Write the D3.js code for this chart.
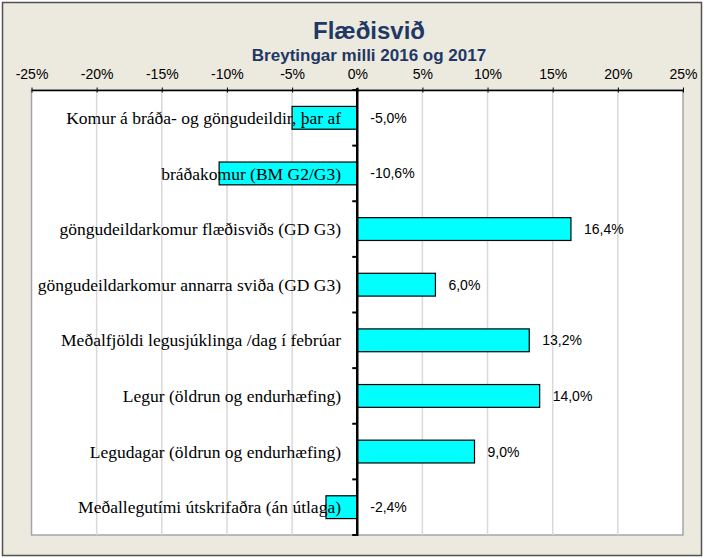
<!DOCTYPE html>
<html>
<head>
<meta charset="utf-8">
<script src="https://cdn.jsdelivr.net/npm/d3@7"></script>
<style>
  body { margin: 0; background: #fff; }
  svg { display: block; }
</style>
</head>
<body>
<svg id="chart" width="704" height="558"></svg>
<script>
// datos
const categories = [
  "Komur á bráða- og göngudeildir, þar af",
  "bráðakomur (BM G2/G3)",
  "göngudeildarkomur flæðisviðs (GD G3)",
  "göngudeildarkomur annarra sviða (GD G3)",
  "Meðalfjöldi legusjúklinga /dag í febrúar",
  "Legur (öldrun og endurhæfing)",
  "Legudagar (öldrun og endurhæfing)",
  "Meðallegutími útskrifaðra (án útlaga)"
];
const values = [-5.0, -10.6, 16.4, 6.0, 13.2, 14.0, 9.0, -2.4];
const ticks = [-25, -20, -15, -10, -5, 0, 5, 10, 15, 20, 25];
const title = "Flæðisvið";
const subtitle = "Breytingar milli 2016 og 2017";

const W = 704, H = 558;
const plot = { left: 31.5, right: 683, top: 90, bottom: 535 };
const svg = d3.select("#chart");

// fondo y marco
svg.append("rect").attr("x", 2.5).attr("y", 2.5).attr("width", W - 5).attr("height", H - 5)
  .attr("fill", "#ECE9DF").attr("stroke", "#505050").attr("stroke-width", 1.5);

svg.append("rect").attr("x", plot.left).attr("y", plot.top)
  .attr("width", plot.right - plot.left).attr("height", plot.bottom - plot.top)
  .attr("fill", "#fff").attr("stroke", "#A4A4AC").attr("stroke-width", 1.5);

const x = d3.scaleLinear().domain([-25, 25]).range([plot.left, plot.right]);
const y = d3.scaleBand().domain(categories).range([plot.top, plot.bottom])
  .paddingInner(0.59).paddingOuter(0.295);

// gridlines
svg.append("g").selectAll("line").data(ticks.filter(t => t > -25 && t < 25 && t !== 0)).join("line")
  .attr("x1", d => x(d)).attr("x2", d => x(d))
  .attr("y1", plot.top).attr("y2", plot.bottom)
  .attr("stroke", "#D9D9D9").attr("stroke-width", 1.5);

// eje superior
const xAxis = d3.axisTop(x).tickValues(ticks).tickSizeInner(-5).tickSizeOuter(0)
  .tickFormat(d => d + "%");
const gx = svg.append("g").attr("transform", `translate(0,${plot.top})`).call(xAxis);
gx.select(".domain").attr("stroke", "#000").attr("stroke-width", 1.5);
gx.selectAll(".tick line").attr("stroke", "#000").attr("y1", -2.5).attr("y2", 2.5);
gx.selectAll(".tick text")
  .attr("y", -11).attr("dy", 0)
  .style("font-family", "'Liberation Sans', Arial, sans-serif")
  .style("font-size", "14px").attr("fill", "#000");

// barras
svg.append("g").selectAll("rect").data(values).join("rect")
  .attr("x", d => x(Math.min(0, d)))
  .attr("y", (d, i) => y(categories[i]))
  .attr("width", d => Math.abs(x(d) - x(0)))
  .attr("height", y.bandwidth())
  .attr("fill", "#00FFFF").attr("stroke", "#000").attr("stroke-width", 1.2);

// eje cero
const band = y.step();
const gy = svg.append("g");
gy.append("line").attr("x1", x(0)).attr("x2", x(0)).attr("y1", plot.top - 2).attr("y2", plot.bottom + 1)
  .attr("stroke", "#000").attr("stroke-width", 2.5);
gy.selectAll("line.tk").data(d3.range(categories.length + 1)).join("line").attr("class", "tk")
  .attr("x1", x(0) - 5).attr("x2", x(0))
  .attr("y1", i => plot.top + i * band).attr("y2", i => plot.top + i * band)
  .attr("stroke", "#000").attr("stroke-width", 2);

// etiquetas de categoría
svg.append("g").selectAll("text").data(categories).join("text")
  .attr("x", 341)
  .attr("y", d => y(d) + y.bandwidth() / 2)
  .attr("dy", "0.35em")
  .attr("text-anchor", "end")
  .style("font-family", "'Liberation Serif', 'Times New Roman', serif")
  .style("font-size", "17.5px")
  .attr("fill", "#000")
  .text(d => d);

// etiquetas de valor
svg.append("g").selectAll("text").data(values).join("text")
  .attr("x", d => x(Math.max(0, d)) + 13)
  .attr("y", (d, i) => y(categories[i]) + y.bandwidth() / 2)
  .attr("dy", "0.36em")
  .style("font-family", "'Liberation Sans', Arial, sans-serif")
  .style("font-size", "14px")
  .attr("fill", "#000")
  .text(d => d3.format(".1f")(d).replace(".", ",").replace("−", "-") + "%");

// títulos
svg.append("text").attr("x", 369).attr("y", 39).attr("text-anchor", "middle")
  .style("font-family", "'Liberation Sans', Arial, sans-serif")
  .style("font-size", "24px").style("font-weight", "bold")
  .attr("fill", "#1F3864").text(title);
svg.append("text").attr("x", 369).attr("y", 61).attr("text-anchor", "middle")
  .style("font-family", "'Liberation Sans', Arial, sans-serif")
  .style("font-size", "17px").style("font-weight", "bold")
  .attr("fill", "#1F3864").text(subtitle);
</script>
</body>
</html>
